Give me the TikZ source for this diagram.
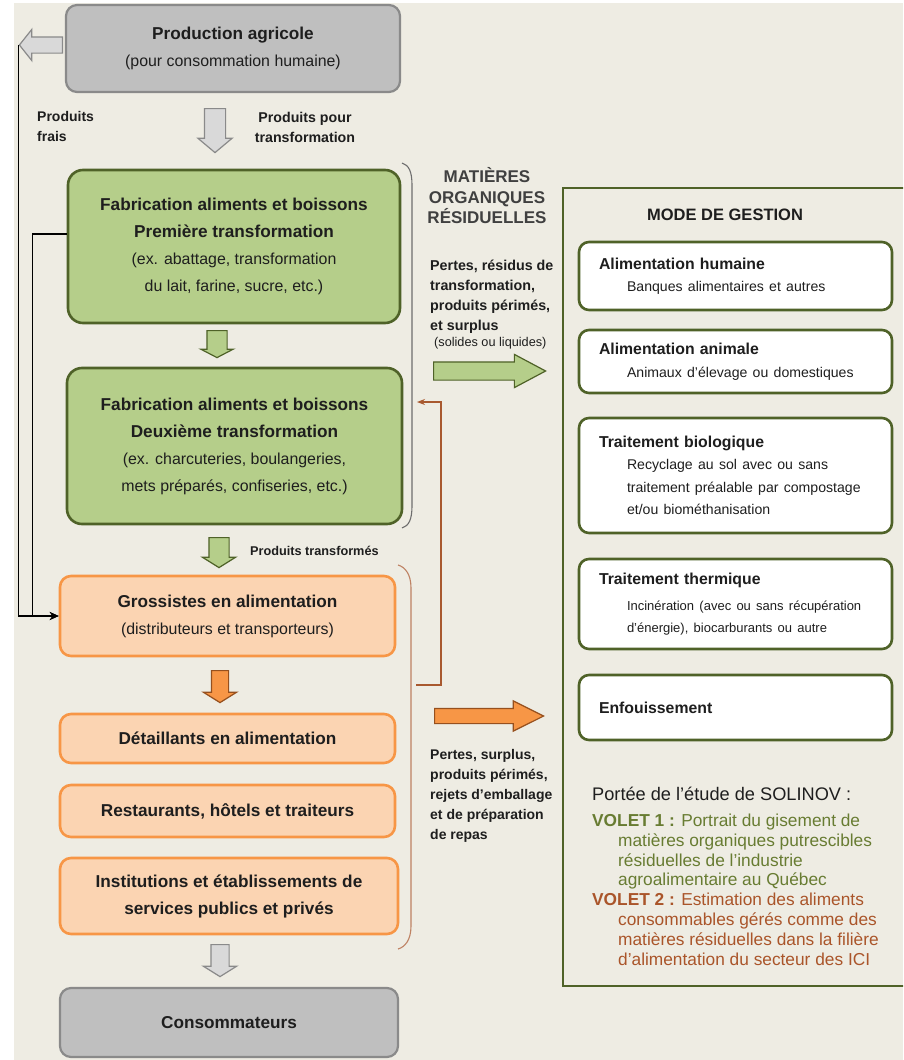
\documentclass[tikz,border=0pt]{standalone}
\usepackage{fontspec}
\setmainfont{Liberation Sans}
\usetikzlibrary{arrows.meta, positioning, shapes.arrows, calc}
\definecolor{BG}{RGB}{238,236,227}
\definecolor{GF}{RGB}{191,191,191}
\definecolor{GD}{RGB}{138,138,138}
\definecolor{GL}{RGB}{217,217,217}
\definecolor{LG}{RGB}{181,206,138}
\definecolor{DG}{RGB}{79,98,40}
\definecolor{LO}{RGB}{251,212,178}
\definecolor{OR}{RGB}{247,150,70}
\definecolor{OD}{RGB}{150,80,30}
\definecolor{BR}{RGB}{168,89,47}
\definecolor{BK}{RGB}{110,110,110}
\definecolor{TX}{RGB}{30,30,30}
\definecolor{VA}{RGB}{104,124,50}
\definecolor{VB}{RGB}{170,85,42}
\newcommand{\subtxt}{\fontsize{15.9}{27}\selectfont\mdseries}
\newcommand{\gstxt}{\fontsize{14.1}{22.5}\selectfont\mdseries}

\begin{document}
\begin{tikzpicture}[x=1pt, y=-1pt,
  stg/.style 2 args={draw=#2, fill=#1, line width=2.6pt, rounded corners=11pt,
              align=center, inner sep=0pt, text=TX,
              font={\fontsize{17.2}{27}\selectfont\bfseries}},
  gbox/.style={draw=DG, fill=white, line width=2.6pt, rounded corners=10pt,
              minimum width=313pt, text width=273pt, inner xsep=20pt, inner ysep=0pt,
              align=left, text=TX, font={\fontsize{15.8}{22.5}\selectfont\bfseries}},
  barr/.style 2 args={single arrow, fill=#1, draw=#2, line width=1.2pt,
              minimum width=0pt, inner xsep=0pt, anchor=tail},
  lbl/.style={inner sep=0pt, text=TX, align=left,
              font={\fontsize{14}{19.8}\selectfont\bfseries}},
  blk/.style={-{Stealth[length=9pt,width=8pt]}, line width=1.4pt, draw=black},
  brk/.style={line width=1.1pt, draw=#1}
]
\useasboundingbox (0,0) rectangle (903,1060);
\clip (0,0) rectangle (903,1060);
\fill[white] (0,0) rectangle (903,1060);
\fill[BG] (14,3) rectangle (903,1060);

% filiere
\node[stg={GF}{GD}, line width=2.2pt, minimum width=334pt, minimum height=87pt] (prod) at (233,48.5)
  {Production agricole\\\subtxt (pour consommation humaine)};
\node[stg={LG}{DG}, rounded corners=15pt, minimum width=332pt, minimum height=153pt] (fab1) at (234,246.5)
  {Fabrication aliments et boissons\\Première transformation\\\subtxt (ex. abattage, transformation\\\subtxt du lait, farine, sucre, etc.)};
\node[stg={LG}{DG}, rounded corners=15pt, minimum width=335pt, minimum height=156pt] (fab2) at (234.5,446)
  {Fabrication aliments et boissons\\Deuxième transformation\\\subtxt (ex. charcuteries, boulangeries,\\\subtxt mets préparés, confiseries, etc.)};
\node[stg={LO}{OR}, minimum width=335pt, minimum height=80pt] (gros) at (227.5,616)
  {Grossistes en alimentation\\\subtxt (distributeurs et transporteurs)};
\node[stg={LO}{OR}, minimum width=335pt, minimum height=49pt] (det) at (227.5,738.5) {Détaillants en alimentation};
\node[stg={LO}{OR}, minimum width=335pt, minimum height=52pt] (rest) at (227.5,811) {Restaurants, hôtels et traiteurs};
\node[stg={LO}{OR}, minimum width=338pt, minimum height=76pt] (inst) at (229,896)
  {Institutions et établissements de\\services publics et privés};
\node[stg={GF}{GD}, line width=2.2pt, minimum width=338pt, minimum height=69pt] (cons) at (229,1022.5) {Consommateurs};

% fleches pleines
\node[barr={GL}{GD}, rotate=180, minimum height=43pt, inner ysep=7.5pt, single arrow head extend=7.5pt, single arrow tip angle=103] (fresh) at (63,45) {};
\node[barr={GL}{GD}, rotate=-90, minimum height=44pt, inner ysep=10pt, single arrow head extend=6.5pt, single arrow tip angle=100] (d1) at (215,108) {};
\node[barr={LG}{DG}, rotate=-90, minimum height=27pt, inner ysep=9.5pt, single arrow head extend=6pt, single arrow tip angle=125] (d2) at (217,330) {};
\node[barr={LG}{DG}, rotate=-90, minimum height=30pt, inner ysep=9.5pt, single arrow head extend=6.5pt, single arrow tip angle=116] (d3) at (219,537) {};
\node[barr={OR}{OD}, rotate=-90, minimum height=32pt, inner ysep=8pt, single arrow head extend=8pt, single arrow tip angle=116] (d4) at (220,670) {};
\node[barr={GL}{GD}, rotate=-90, minimum height=32pt, inner ysep=8.5pt, single arrow head extend=7.5pt, single arrow tip angle=116] (d5) at (220,944) {};
\node[barr={LG}{DG}, minimum height=112pt, inner ysep=8.5pt, single arrow head extend=7.5pt, single arrow tip angle=56] (garr) at (433,371) {};
\node[barr={OR}{OD}, minimum height=109pt, inner ysep=7pt, single arrow head extend=7.5pt, single arrow tip angle=53] (oarr) at (434,716) {};

% etiquettes
\node[lbl, anchor=north west] (frais) at (37,111) {Produits\\frais};
\node[lbl, anchor=north, align=center, font={\fontsize{14.2}{20}\selectfont\bfseries}] (ppt) at (305,112.5) {Produits pour\\transformation};
\node[lbl, anchor=base west, font={\fontsize{12.7}{15}\selectfont\bfseries}] (ptr) at (250,555) {Produits transformés};
\node[lbl, anchor=north, align=center, text=TX!85, font={\fontsize{17}{20.5}\selectfont\bfseries}] (mat) at (487,167.5)
  {MATIÈRES\\ORGANIQUES\\RÉSIDUELLES};
\node[lbl, anchor=north west, font={\fontsize{14.3}{20}\selectfont\bfseries}] (pert1) at (430,259.4)
  {Pertes, résidus de\\transformation,\\produits périmés,\\et surplus};
\node[lbl, anchor=base west, font={\fontsize{12.7}{15}\selectfont}] (sol) at (434,346.5) {(solides ou liquides)};
\node[lbl, anchor=north west] (pert2) at (430,749.5)
  {Pertes, surplus,\\produits périmés,\\rejets d'emballage\\et de préparation\\de repas};

% accolades
\draw[brk=BK] (402,163) .. controls (409,165) and (412,172) .. (412,185) -- (412,506)
  .. controls (412,519) and (409,526) .. (402,528);
\draw[brk=BR!75] (398,565) .. controls (405,567) and (411,574) .. (411,588) -- (411,926)
  .. controls (411,940) and (405,947) .. (398,949);

% liens
\draw[blk] (fresh.tip) |- (gros.west);
\draw[blk] ([yshift=12.5pt]fab1.west) -- ++(-34,0) |- (gros.west);
\coordinate (ob) at (416,685);
\coordinate (gb) at (417,402);
\draw[-{Stealth[length=8pt,width=6pt]}, line width=1.1pt, draw=BR] (ob) -- (441,685) |- (gb);

% mode de gestion
\node[draw=DG, line width=2.4pt, minimum width=352pt, minimum height=798pt, inner sep=0pt] (mg) at (739,587) {};
\node[anchor=base, inner sep=0pt, text=TX, font={\fontsize{16.5}{20}\selectfont\bfseries}] (mdg) at (725,220) {MODE DE GESTION};
\node[gbox, minimum height=68pt] (g1) at (735.5,276)
  {Alimentation humaine\\\gstxt\hspace*{28pt}Banques alimentaires et autres};
\node[gbox, minimum height=63pt] (g2) at (735.5,361.5)
  {Alimentation animale\\\gstxt\hspace*{28pt}Animaux d'élevage ou domestiques};
\node[gbox, minimum height=115pt] (g3) at (735.5,475.5)
  {Traitement biologique\\\gstxt\hspace*{28pt}Recyclage au sol avec ou sans\\\hspace*{28pt}traitement préalable par compostage\\\hspace*{28pt}et/ou biométhanisation};
\node[gbox, minimum height=90pt] (g4) at (735.5,604)
  {Traitement thermique\\[5pt]\fontsize{13}{21}\selectfont\mdseries\hspace*{28pt}Incinération (avec ou sans récupération\\\hspace*{28pt}d'énergie), biocarburants ou autre};
\node[gbox, minimum height=65pt] (g5) at (735.5,707.5) {Enfouissement};

% portee de l'etude
\node[anchor=base west, inner sep=0pt, text=TX, font={\fontsize{18.2}{22}\selectfont}] (port) at (592,800)
  {Portée de l'étude de SOLINOV :};
\node[anchor=north west, inner sep=0pt, align=left, font={\fontsize{17.3}{19.9}\selectfont}] (vol) at (592,813.5)
  {\color{VA}\textbf{VOLET 1 :} Portrait du gisement de\\
   \color{VA}\hspace*{26pt}matières organiques putrescibles\\
   \color{VA}\hspace*{26pt}résiduelles de l'industrie\\
   \color{VA}\hspace*{26pt}agroalimentaire au Québec\\
   \color{VB}\textbf{VOLET 2 :} Estimation des aliments\\
   \color{VB}\hspace*{26pt}consommables gérés comme des\\
   \color{VB}\hspace*{26pt}matières résiduelles dans la filière\\
   \color{VB}\hspace*{26pt}d'alimentation du secteur des ICI};
\end{tikzpicture}
\end{document}
